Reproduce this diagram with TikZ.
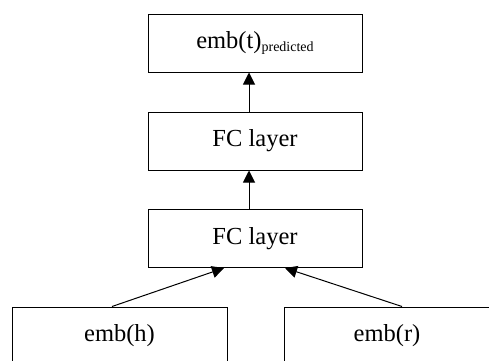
\documentclass[tikz,border=0pt]{standalone}
\usepackage{fontspec}
\setmainfont{Liberation Serif}
\usetikzlibrary{arrows.meta}
\begin{document}
\begin{tikzpicture}[x=1pt,y=-1pt,
  box/.style={draw=black,line width=1pt,inner sep=0pt,minimum height=58pt,
    font=\fontsize{24.5}{26}\selectfont},
  arr/.style={line width=1pt,-{Triangle[length=12pt,width=12pt]}}]
\useasboundingbox (0,0) rectangle (489,360);
\node[box,minimum width=214pt] (top) at (255,43) {emb(t)\raisebox{-3pt}{\fontsize{14}{14}\selectfont predicted}};
\node[box,minimum width=214pt] (fc2) at (255,141) {FC layer};
\node[box,minimum width=214pt] (fc1) at (255,238.5) {FC layer};
\node[box,minimum width=215pt] (h) at (119.5,336) {emb(h)};
\node[box,minimum width=206pt] (r) at (387,336) {emb(r)};
\coordinate (ax) at (249,0);
\coordinate (hs) at (112,0);
\coordinate (ht) at (224,0);
\coordinate (rs) at (402,0);
\coordinate (rt) at (285,0);
\draw[arr] (fc2.north -| ax) -- (top.south -| ax);
\draw[arr] (fc1.north -| ax) -- (fc2.south -| ax);
\draw[arr] (h.north -| hs) -- (fc1.south -| ht);
\draw[arr] (r.north -| rs) -- (fc1.south -| rt);
\end{tikzpicture}
\end{document}
